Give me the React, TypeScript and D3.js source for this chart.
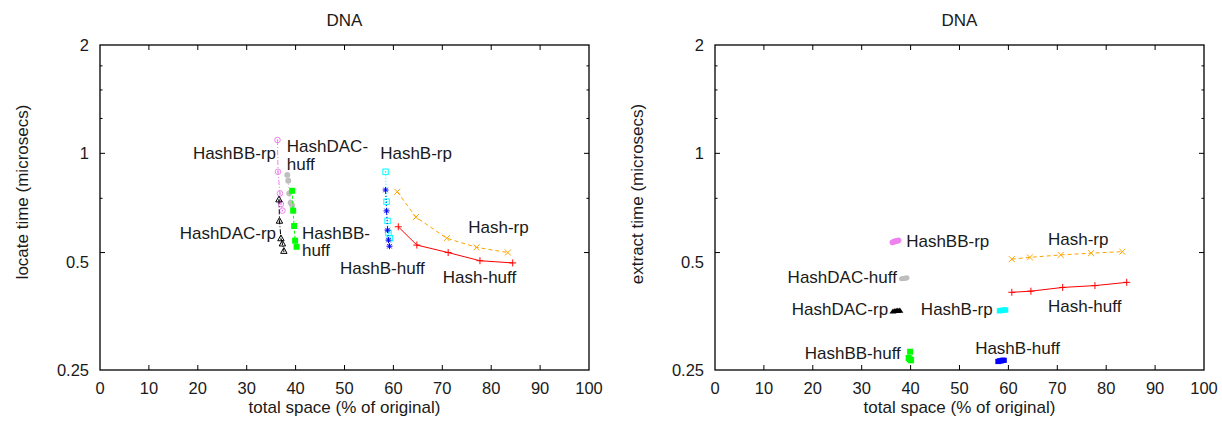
import React from 'react';
import * as d3 from 'd3';

// ---------- data ----------
const X_TICKS = [0, 10, 20, 30, 40, 50, 60, 70, 80, 90, 100];
const Y_LABELS = [2, 1, 0.5, 0.25];
const Y_MAJOR_MARKS = [1, 0.53];
const Y_MINOR_MARKS = [1.75, 1.5, 1.25, 0.75];
const TITLE = 'DNA';
const X_TITLE = 'total space (% of original)';
const Y_TITLE_LOCATE = 'locate time (microsecs)';
const Y_TITLE_EXTRACT = 'extract time (microsecs)';

// locate panel
const locHashBBrpX = [36.3, 36.4, 36.8, 37.0, 37.3];
const locHashBBrpY = [1.089, 0.889, 0.774, 0.723, 0.693];
const locHashDACrpX = [36.6, 36.7, 37.0, 37.3, 37.6];
const locHashDACrpY = [0.745, 0.65, 0.581, 0.562, 0.536];
const locHashDAChuffX = [38.3, 38.5, 38.7, 39.0, 39.3];
const locHashDAChuffY = [0.871, 0.839, 0.774, 0.729, 0.717];
const locHashBBhuffX = [39.3, 39.5, 39.7, 39.9, 40.2];
const locHashBBhuffY = [0.787, 0.693, 0.628, 0.572, 0.55];
const locHashBrpX = [58.4, 58.6, 58.8, 59.0, 59.3];
const locHashBrpY = [0.889, 0.734, 0.649, 0.6, 0.581];
const locHashBhuffX = [58.4, 58.6, 58.8, 59.0, 59.2];
const locHashBhuffY = [0.791, 0.692, 0.612, 0.574, 0.552];
const locHashrpX = [60.8, 64.6, 70.9, 77.0, 83.4];
const locHashrpY = [0.782, 0.665, 0.581, 0.548, 0.53];
const locHashhuffX = [61.0, 64.8, 71.2, 77.7, 84.4];
const locHashhuffY = [0.625, 0.556, 0.53, 0.503, 0.496];

// extract panel
const extHashBBrpX = [36.3, 36.6, 36.9, 37.2, 37.5];
const extHashBBrpY = [0.566, 0.568, 0.57, 0.571, 0.573];
const extHashDACrpX = [36.4, 36.8, 37.1, 37.4, 37.8];
const extHashDACrpY = [0.364, 0.365, 0.365, 0.366, 0.366];
const extHashDAChuffX = [38.2, 38.5, 38.8, 39.0, 39.2];
const extHashDAChuffY = [0.448, 0.449, 0.45, 0.45, 0.451];
const extHashBBhuffX = [39.9, 39.6, 39.8, 40.0, 40.1];
const extHashBBhuffY = [0.281, 0.27, 0.268, 0.267, 0.266];
const extHashBrpX = [58.2, 58.5, 58.8, 59.1, 59.4];
const extHashBrpY = [0.365, 0.366, 0.366, 0.367, 0.367];
const extHashBhuffX = [57.9, 58.2, 58.5, 58.8, 59.1];
const extHashBhuffY = [0.264, 0.265, 0.265, 0.266, 0.266];
const extHashrpX = [60.7, 64.4, 70.7, 76.9, 83.3];
const extHashrpY = [0.508, 0.514, 0.522, 0.528, 0.533];
const extHashhuffX = [60.7, 64.6, 71.1, 77.7, 84.2];
const extHashhuffY = [0.411, 0.414, 0.424, 0.429, 0.438];

// labels: text lines, data x, data y, anchor
const locLabelText = ['HashBB-rp', 'HashDAC-', 'huff', 'HashDAC-rp', 'HashBB-', 'huff', 'HashB-rp', 'Hash-rp', 'HashB-huff', 'Hash-huff'];
const locLabelX = [36.0, 38.2, 38.2, 36.0, 41.3, 41.3, 57.3, 75.3, 49.1, 70.1];
const locLabelY = [1.0, 1.048, 0.934, 0.6, 0.6, 0.537, 1.0, 0.624, 0.48, 0.453];
const locLabelAnchor = ['end', 'start', 'start', 'end', 'start', 'start', 'start', 'start', 'start', 'start'];

const extLabelText = ['HashBB-rp', 'Hash-rp', 'HashDAC-huff', 'HashDAC-rp', 'HashB-rp', 'Hash-huff', 'HashBB-huff', 'HashB-huff'];
const extLabelX = [39.1, 68.1, 37.2, 35.4, 42.1, 68.1, 38.0, 53.2];
const extLabelY = [0.568, 0.576, 0.452, 0.367, 0.367, 0.3765, 0.277, 0.287];
const extLabelAnchor = ['start', 'start', 'end', 'end', 'start', 'start', 'end', 'start'];

// ---------- styles ----------
const FONT = "'Liberation Sans', Arial, Helvetica, sans-serif";
const TEXT = '#1a1a1a';

type Series = { xs: number[]; ys: number[]; color: string; dash: string | null; marker: string };

const locSeries: Series[] = [
  { xs: locHashBBrpX, ys: locHashBBrpY, color: '#ee82ee', dash: '5,2,1,2', marker: 'circleDot' },
  { xs: locHashDAChuffX, ys: locHashDAChuffY, color: '#bebebe', dash: '1,2', marker: 'filledCircle' },
  { xs: locHashBBhuffX, ys: locHashBBhuffY, color: '#00ff00', dash: '3,2', marker: 'filledSquare' },
  { xs: locHashDACrpX, ys: locHashDACrpY, color: '#000000', dash: '5,2,1,2', marker: 'triangleDot' },
  { xs: locHashBrpX, ys: locHashBrpY, color: '#00ffff', dash: '1,2', marker: 'squareDot' },
  { xs: locHashBhuffX, ys: locHashBhuffY, color: '#0000ff', dash: '1,2', marker: 'asterisk' },
  { xs: locHashrpX, ys: locHashrpY, color: '#ffa500', dash: '4,3', marker: 'cross' },
  { xs: locHashhuffX, ys: locHashhuffY, color: '#ff0000', dash: null, marker: 'plus' },
];

const extSeries: Series[] = [
  { xs: extHashBBrpX, ys: extHashBBrpY, color: '#ee82ee', dash: '5,2,1,2', marker: 'filledCircle' },
  { xs: extHashDAChuffX, ys: extHashDAChuffY, color: '#bebebe', dash: '1,2', marker: 'filledCircleSmall' },
  { xs: extHashBBhuffX, ys: extHashBBhuffY, color: '#00ff00', dash: '3,2', marker: 'filledSquare' },
  { xs: extHashDACrpX, ys: extHashDACrpY, color: '#000000', dash: '5,2,1,2', marker: 'filledTriangle' },
  { xs: extHashBrpX, ys: extHashBrpY, color: '#00ffff', dash: '1,2', marker: 'filledSquareSmall' },
  { xs: extHashBhuffX, ys: extHashBhuffY, color: '#0000ff', dash: '1,2', marker: 'filledSquareSmall' },
  { xs: extHashrpX, ys: extHashrpY, color: '#ffa500', dash: '4,3', marker: 'cross' },
  { xs: extHashhuffX, ys: extHashhuffY, color: '#ff0000', dash: null, marker: 'plus' },
];

function Marker({ type, x, y, color }: { type: string; x: number; y: number; color: string }) {
  const sw = 1;
  switch (type) {
    case 'circleDot':
      return (
        <g>
          <circle cx={x} cy={y} r={2.8} fill="none" stroke={color} strokeWidth={sw} />
          <circle cx={x} cy={y} r={0.8} fill={color} />
        </g>
      );
    case 'filledCircle':
      return <ellipse cx={x} cy={y} rx={3} ry={2.9} fill={color} />;
    case 'filledCircleSmall':
      return <ellipse cx={x} cy={y} rx={2.8} ry={2.5} fill={color} />;
    case 'filledSquare':
      return <rect x={x - 3} y={y - 3} width={6} height={6} fill={color} />;
    case 'filledSquareSmall':
      return <rect x={x - 2.8} y={y - 2.6} width={5.6} height={5.2} fill={color} />;
    case 'triangleDot': {
      const s = 3.2;
      const p = `${x},${y - s} ${x + s},${y + s * 0.8} ${x - s},${y + s * 0.8}`;
      return (
        <g>
          <polygon points={p} fill="none" stroke={color} strokeWidth={sw} />
          <circle cx={x} cy={y + 0.8} r={0.7} fill={color} />
        </g>
      );
    }
    case 'filledTriangle': {
      const s = 3.2;
      const p = `${x},${y - s * 0.9} ${x + s * 1.1},${y + s * 0.7} ${x - s * 1.1},${y + s * 0.7}`;
      return <polygon points={p} fill={color} />;
    }
    case 'squareDot':
      return (
        <g>
          <rect x={x - 2.7} y={y - 2.7} width={5.4} height={5.4} fill="none" stroke={color} strokeWidth={sw} />
          <circle cx={x} cy={y} r={0.7} fill={color} />
        </g>
      );
    case 'asterisk': {
      const s = 3;
      return (
        <g stroke={color} strokeWidth={sw}>
          <line x1={x - s} y1={y} x2={x + s} y2={y} />
          <line x1={x} y1={y - s} x2={x} y2={y + s} />
          <line x1={x - s * 0.75} y1={y - s * 0.75} x2={x + s * 0.75} y2={y + s * 0.75} />
          <line x1={x - s * 0.75} y1={y + s * 0.75} x2={x + s * 0.75} y2={y - s * 0.75} />
        </g>
      );
    }
    case 'cross': {
      const s = 3;
      return (
        <g stroke={color} strokeWidth={sw}>
          <line x1={x - s} y1={y - s} x2={x + s} y2={y + s} />
          <line x1={x - s} y1={y + s} x2={x + s} y2={y - s} />
        </g>
      );
    }
    case 'plus': {
      const s = 3.5;
      return (
        <g stroke={color} strokeWidth={sw}>
          <line x1={x - s} y1={y} x2={x + s} y2={y} />
          <line x1={x} y1={y - s} x2={x} y2={y + s} />
        </g>
      );
    }
    default:
      return null;
  }
}

type PanelProps = {
  left: number;
  yTitle: string;
  yTitleX: number;
  yTitleY: number;
  series: Series[];
  labelText: string[];
  labelX: number[];
  labelY: number[];
  labelAnchor: string[];
};

const TOP = 45;
const BOTTOM = 370;
const WIDTH = 489;

function Panel(props: PanelProps) {
  const { left, series } = props;
  const x = d3.scaleLinear().domain([0, 100]).range([left, left + WIDTH]);
  const y = d3.scaleLog().base(2).domain([0.25, 2]).range([BOTTOM, TOP]);
  const right = left + WIDTH;
  const line = d3
    .line<[number, number]>()
    .x((d) => x(d[0]))
    .y((d) => y(d[1]));

  return (
    <g>
      <text x={(left + right) / 2} y={20} textAnchor="middle" dominantBaseline="central" fontFamily={FONT} fontSize={17} fill={TEXT}>
        {TITLE}
      </text>
      {/* ticks */}
      {X_TICKS.slice(1, -1).map((t) => (
        <g key={'xt' + t} stroke="#000" strokeWidth={1}>
          <line x1={x(t)} x2={x(t)} y1={BOTTOM} y2={BOTTOM - 5} />
          <line x1={x(t)} x2={x(t)} y1={TOP} y2={TOP + 5} />
        </g>
      ))}
      {Y_MAJOR_MARKS.map((t) => (
        <g key={'ym' + t} stroke="#000" strokeWidth={1}>
          <line x1={left} x2={left + 5} y1={y(t)} y2={y(t)} />
          <line x1={right} x2={right - 5} y1={y(t)} y2={y(t)} />
        </g>
      ))}
      {Y_MINOR_MARKS.map((t) => (
        <g key={'yn' + t} stroke="#000" strokeWidth={1}>
          <line x1={left} x2={left + 2.5} y1={y(t)} y2={y(t)} />
          <line x1={right} x2={right - 2.5} y1={y(t)} y2={y(t)} />
        </g>
      ))}
      {/* frame */}
      <rect x={left} y={TOP} width={WIDTH} height={BOTTOM - TOP} fill="none" stroke="#000" strokeWidth={1.3} />
      {/* tick labels */}
      {X_TICKS.map((t) => (
        <text key={'xl' + t} x={x(t)} y={BOTTOM + 17.5} textAnchor="middle" dominantBaseline="central" fontFamily={FONT} fontSize={16.5} fill={TEXT}>
          {t}
        </text>
      ))}
      {Y_LABELS.map((t) => (
        <text key={'yl' + t} x={left - 11} y={y(t)} textAnchor="end" dominantBaseline="central" fontFamily={FONT} fontSize={16.5} fill={TEXT}>
          {t}
        </text>
      ))}
      <text x={(left + right) / 2} y={407} textAnchor="middle" dominantBaseline="central" fontFamily={FONT} fontSize={17} fill={TEXT}>
        {X_TITLE}
      </text>
      <text
        transform={`translate(${props.yTitleX},${props.yTitleY}) rotate(-90)`}
        textAnchor="middle"
        dominantBaseline="central"
        fontFamily={FONT}
        fontSize={17}
        fill={TEXT}
      >
        {props.yTitle}
      </text>
      {/* series */}
      {series.map((s, i) => {
        const pts = s.xs.map((v, j) => [v, s.ys[j]] as [number, number]);
        return (
          <g key={'s' + i}>
            <path d={line(pts) || ''} fill="none" stroke={s.color} strokeWidth={1} strokeDasharray={s.dash || undefined} />
            {pts.map((p, j) => (
              <Marker key={j} type={s.marker} x={x(p[0])} y={y(p[1])} color={s.color} />
            ))}
          </g>
        );
      })}
      {/* labels */}
      {props.labelText.map((t, i) => (
        <text
          key={'lb' + i}
          x={x(props.labelX[i])}
          y={y(props.labelY[i])}
          textAnchor={props.labelAnchor[i] as any}
          dominantBaseline="central"
          fontFamily={FONT}
          fontSize={17}
          fill={TEXT}
        >
          {t}
        </text>
      ))}
    </g>
  );
}

export default function App() {
  return (
    <svg width={1222} height={421} style={{ position: 'absolute', left: 0, top: 0, background: '#fff' }}>
      <rect x={0} y={0} width={1222} height={421} fill="#fff" />
      <Panel
        left={100}
        yTitle={Y_TITLE_LOCATE}
        yTitleX={22}
        yTitleY={192}
        series={locSeries}
        labelText={locLabelText}
        labelX={locLabelX}
        labelY={locLabelY}
        labelAnchor={locLabelAnchor}
      />
      <Panel
        left={715}
        yTitle={Y_TITLE_EXTRACT}
        yTitleX={637}
        yTitleY={194}
        series={extSeries}
        labelText={extLabelText}
        labelX={extLabelX}
        labelY={extLabelY}
        labelAnchor={extLabelAnchor}
      />
    </svg>
  );
}
